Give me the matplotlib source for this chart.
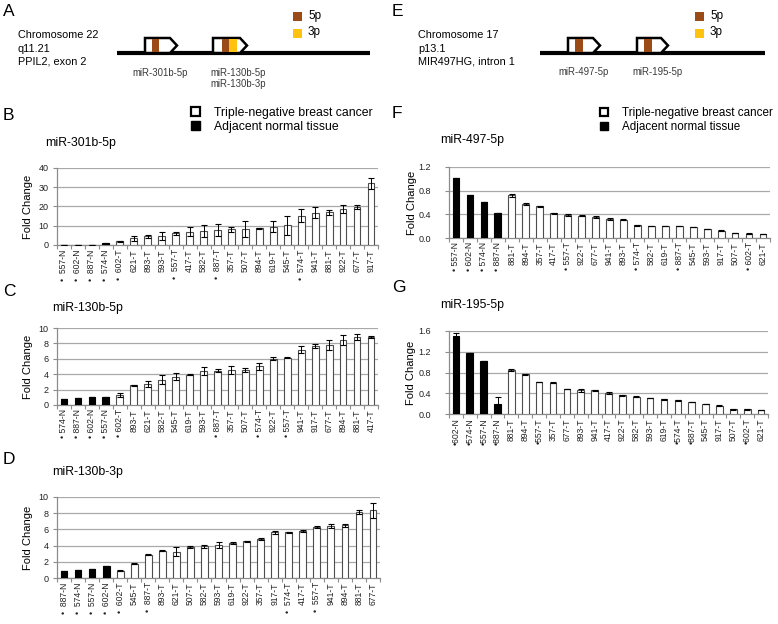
import numpy as np
import matplotlib
matplotlib.use("Agg")
import matplotlib.pyplot as plt
from matplotlib.patches import Polygon, Rectangle, Patch

plt.rcParams['font.family'] = ['Liberation Sans', 'DejaVu Sans']

W, H = 778, 624
BROWN = '#9A4B17'
YELLOW = '#FFC20E'
GRID = '#a9a9a9'
EDGE = '#4d4d4d'

# ---------------- data ----------------
paired = ['557', '602', '887', '574']

b_labels = ['557-N', '602-N', '887-N', '574-N', '602-T', '621-T', '893-T', '593-T', '557-T', '417-T', '582-T',
            '887-T', '357-T', '507-T', '894-T', '619-T', '545-T', '574-T', '941-T', '881-T', '922-T', '677-T', '917-T']
b_values = [0.05, 0.05, 0.2, 0.8, 2.0, 3.4, 4.6, 4.8, 6.1, 7.0, 7.3, 7.8, 8.2, 8.5, 8.7, 9.5, 10.2, 15.3, 16.7, 17.0,
            18.7, 19.7, 32.0]
b_errors = [0, 0, 0, 0.2, 0.3, 1.4, 0.8, 2.2, 0.8, 2.5, 2.9, 2.9, 1.4, 4.2, 0.2, 2.9, 4.8, 3.4, 2.9, 1.4, 2.2, 1.2, 2.9]

c_labels = ['574-N', '887-N', '602-N', '557-N', '602-T', '893-T', '621-T', '582-T', '545-T', '619-T', '593-T',
            '887-T', '357-T', '507-T', '574-T', '922-T', '557-T', '941-T', '917-T', '677-T', '894-T', '881-T', '417-T']
c_values = [0.82, 0.85, 1.0, 1.1, 1.3, 2.57, 2.73, 3.3, 3.7, 3.96, 4.4, 4.43, 4.55, 4.57, 5.04, 6.0, 6.16, 7.18,
            7.65, 7.8, 8.39, 8.8, 8.83]
c_errors = [0, 0, 0, 0, 0.2, 0.05, 0.35, 0.55, 0.4, 0.1, 0.55, 0.2, 0.5, 0.3, 0.45, 0.2, 0.1, 0.45, 0.3, 0.6, 0.65,
            0.4, 0.1]

d_labels = ['887-N', '574-N', '557-N', '602-N', '602-T', '545-T', '887-T', '893-T', '621-T', '507-T', '582-T',
            '593-T', '619-T', '922-T', '357-T', '917-T', '574-T', '417-T', '557-T', '941-T', '894-T', '881-T', '677-T']
d_values = [0.9, 1.0, 1.06, 1.47, 0.9, 1.75, 2.9, 3.35, 3.27, 3.84, 3.9, 4.08, 4.33, 4.53, 4.78, 5.63, 5.63, 5.8,
            6.29, 6.37, 6.49, 8.2, 8.37]
d_errors = [0, 0, 0, 0, 0.05, 0.05, 0.05, 0.05, 0.6, 0.1, 0.15, 0.35, 0.1, 0.05, 0.1, 0.15, 0.1, 0.15, 0.1, 0.25,
            0.2, 0.25, 0.95]

f_labels = ['557-N', '602-N', '574-N', '887-N', '881-T', '894-T', '357-T', '417-T', '557-T', '922-T', '677-T',
            '941-T', '893-T', '574-T', '582-T', '619-T', '887-T', '545-T', '593-T', '917-T', '507-T', '602-T', '621-T']
f_values = [1.02, 0.73, 0.6, 0.43, 0.72, 0.575, 0.535, 0.42, 0.39, 0.375, 0.355, 0.32, 0.31, 0.215, 0.2, 0.2, 0.2,
            0.185, 0.155, 0.125, 0.085, 0.075, 0.068]
f_errors = [0, 0, 0, 0, 0.03, 0.01, 0.01, 0.01, 0.015, 0.01, 0.01, 0.01, 0.005, 0.005, 0.005, 0.005, 0.005, 0.005,
            0.005, 0.005, 0.005, 0.005, 0.005]

g_labels = ['602-N', '574-N', '557-N', '887-N', '881-T', '894-T', '557-T', '357-T', '677-T', '893-T', '941-T',
            '417-T', '922-T', '582-T', '593-T', '619-T', '574-T', '887-T', '545-T', '917-T', '507-T', '602-T', '621-T']
g_values = [1.51, 1.18, 1.02, 0.2, 0.85, 0.765, 0.62, 0.6, 0.48, 0.46, 0.455, 0.405, 0.36, 0.335, 0.31, 0.28, 0.265,
            0.23, 0.19, 0.16, 0.09, 0.09, 0.08]
g_errors = [0.05, 0, 0, 0.13, 0.02, 0.01, 0.005, 0.01, 0.005, 0.03, 0.005, 0.01, 0.005, 0.005, 0.005, 0.005, 0.005,
            0.005, 0.005, 0.005, 0.005, 0.005, 0.005]

fig = plt.figure(figsize=(W / 100, H / 100), dpi=100)


def fx(x):
    return x / W


def fy(y):
    return 1 - y / H


def rect(l, r, t, b):
    return [fx(l), fy(b), (r - l) / W, (b - t) / H]


def panel(box, labels, values, errors, yticks, fmt, prefix, title, title_xy, ylab_x, ypad):
    ax = fig.add_axes(rect(*box))
    n = len(labels)
    x = np.arange(n)
    normal = [s.endswith('N') for s in labels]
    face = ['black' if nm else 'white' for nm in normal]
    edge = ['black' if nm else EDGE for nm in normal]
    ax.bar(x, values, width=0.48, color=face, edgecolor=edge, linewidth=0.8, zorder=3)
    ax.errorbar(x, values, yerr=errors, fmt='none', ecolor='black', elinewidth=0.7, capsize=2.2,
                capthick=0.8, zorder=4)
    ax.set_xlim(-0.5, n - 0.5)
    ax.set_ylim(yticks[0], yticks[-1])
    ax.set_yticks(yticks)
    ax.set_yticklabels([fmt.format(v) for v in yticks], fontsize=6.5)
    ax.yaxis.grid(True, color=GRID, linewidth=0.9, zorder=0)
    ax.set_axisbelow(True)
    for s in ['top', 'right']:
        ax.spines[s].set_visible(False)
    for s in ['left', 'bottom']:
        ax.spines[s].set_color('#8c8c8c')
        ax.spines[s].set_linewidth(0.9)
    ax.set_xticks(x)
    ticklabs = [(prefix + s) if s.split('-')[0] in paired else s for s in labels]
    ax.set_xticklabels(ticklabs, rotation=90, fontsize=6.2)
    ax.tick_params(axis='x', which='major', length=0, pad=3, colors='#222222')
    ax.set_xticks(np.arange(n + 1) - 0.5, minor=True)
    ax.tick_params(axis='x', which='minor', length=3, color='#8c8c8c', width=0.8)
    ax.tick_params(axis='y', length=3, color='#8c8c8c', width=0.8, pad=ypad, labelcolor='#222222')
    ax.set_ylabel('Fold Change', fontsize=8)
    ax.yaxis.set_label_coords((ylab_x - box[0]) / (box[1] - box[0]), 0.5)
    fig.text(fx(title_xy[0]), fy(title_xy[1]), title, fontsize=8.8, ha='left', va='center')
    return ax


panel((57, 378, 168, 245), b_labels, b_values, b_errors, [0, 10, 20, 30, 40], '{:.0f}', '\u2022  ',
      'miR-301b-5p', (45, 143), 33, 3)
panel((57, 378, 328, 405), c_labels, c_values, c_errors, [0, 2, 4, 6, 8, 10], '{:.0f}', '\u2022 ',
      'miR-130b-5p', (52, 308), 33, 3)
panel((57, 380, 497, 578), d_labels, d_values, d_errors, [0, 2, 4, 6, 8, 10], '{:.0f}', '\u2022  ',
      'miR-130b-3p', (52, 472), 33, 3)
panel((449, 770, 167, 238), f_labels, f_values, f_errors, [0.0, 0.4, 0.8, 1.2], '{:.1f}', '\u2022 ',
      'miR-497-5p', (440, 140), 417, 10)
panel((449, 768, 331, 414), g_labels, g_values, g_errors, [0.0, 0.4, 0.8, 1.2, 1.6], '{:.1f}', '\u2022',
      'miR-195-5p', (440, 305), 416, 10)

# legends
handles = [Patch(facecolor='white', edgecolor='black', linewidth=1.6), Patch(facecolor='black', edgecolor='black')]
leg_labels = ['Triple-negative breast cancer', 'Adjacent normal tissue']
for lx, fs in ((191, 8.8), (600, 8.4)):
    fig.legend(handles, leg_labels, loc='upper left', bbox_to_anchor=(fx(lx), fy(107)), frameon=False,
               fontsize=fs, handlelength=0.7, handleheight=0.7, handletextpad=1.2, labelspacing=0.15,
               borderpad=0, borderaxespad=0)

# ---------------- schematic panels A and E ----------------
ov = fig.add_axes([0, 0, 1, 1], zorder=-1)
ov.set_xlim(0, W)
ov.set_ylim(H, 0)
ov.axis('off')


def gene_box(x0, x1, stripes):
    top, bot = 38, 53
    poly = Polygon([(x0, bot), (x0, top), (x1 - 7, top), (x1, (top + bot) / 2), (x1 - 7, bot)],
                   closed=True, facecolor='white', edgecolor='black', linewidth=1.8, zorder=2)
    ov.add_patch(poly)
    for sx0, sx1, col in stripes:
        ov.add_patch(Rectangle((sx0, top + 1), sx1 - sx0, bot - top - 2, facecolor=col, edgecolor='none', zorder=3))


def schematic(lx0, lx1, boxes, legend_x):
    ov.plot([lx0, lx1], [53, 53], color='black', linewidth=3, zorder=1, solid_capstyle='butt')
    for b in boxes:
        gene_box(*b)
    ov.add_patch(Rectangle((legend_x, 12), 9, 9, facecolor=BROWN, edgecolor='none'))
    ov.add_patch(Rectangle((legend_x, 29), 9, 9, facecolor=YELLOW, edgecolor='none'))
    ov.text(legend_x + 15, 16, '5p', fontsize=8.5, va='center', ha='left')
    ov.text(legend_x + 15, 32, '3p', fontsize=8.5, va='center', ha='left')


schematic(117, 370, [(145, 177, [(152, 159, BROWN)]), (213, 247, [(222, 229, BROWN), (229, 237, YELLOW)])], 293)
schematic(540, 765, [(568, 600, [(575, 583, BROWN)]), (637, 668, [(644, 652, BROWN)])], 695)

for i, t in enumerate(['Chromosome 22', 'q11.21', 'PPIL2, exon 2']):
    ov.text(18, 35 + 13.5 * i, t, fontsize=7.8, va='center', ha='left')
for i, t in enumerate(['Chromosome 17', 'p13.1', 'MIR497HG, intron 1']):
    ov.text(418, 35 + 13.5 * i, t, fontsize=7.8, va='center', ha='left')

mir_col = '#3a3a3a'
ov.text(160, 73, 'miR-301b-5p', fontsize=6.9, ha='center', va='center', color=mir_col)
ov.text(238, 73, 'miR-130b-5p', fontsize=6.9, ha='center', va='center', color=mir_col)
ov.text(238, 84, 'miR-130b-3p', fontsize=6.9, ha='center', va='center', color=mir_col)
ov.text(584, 72, 'miR-497-5p', fontsize=6.9, ha='center', va='center', color=mir_col)
ov.text(657, 72, 'miR-195-5p', fontsize=6.9, ha='center', va='center', color=mir_col)

# panel letters
for letter, x, y in [('A', 3, 12), ('B', 3, 116), ('C', 3, 292), ('D', 3, 460),
                     ('E', 392, 12), ('F', 392, 114), ('G', 392, 288)]:
    ov.text(x, y, letter, fontsize=12.5, ha='left', va='center')

fig.savefig('out.png', dpi=100)
